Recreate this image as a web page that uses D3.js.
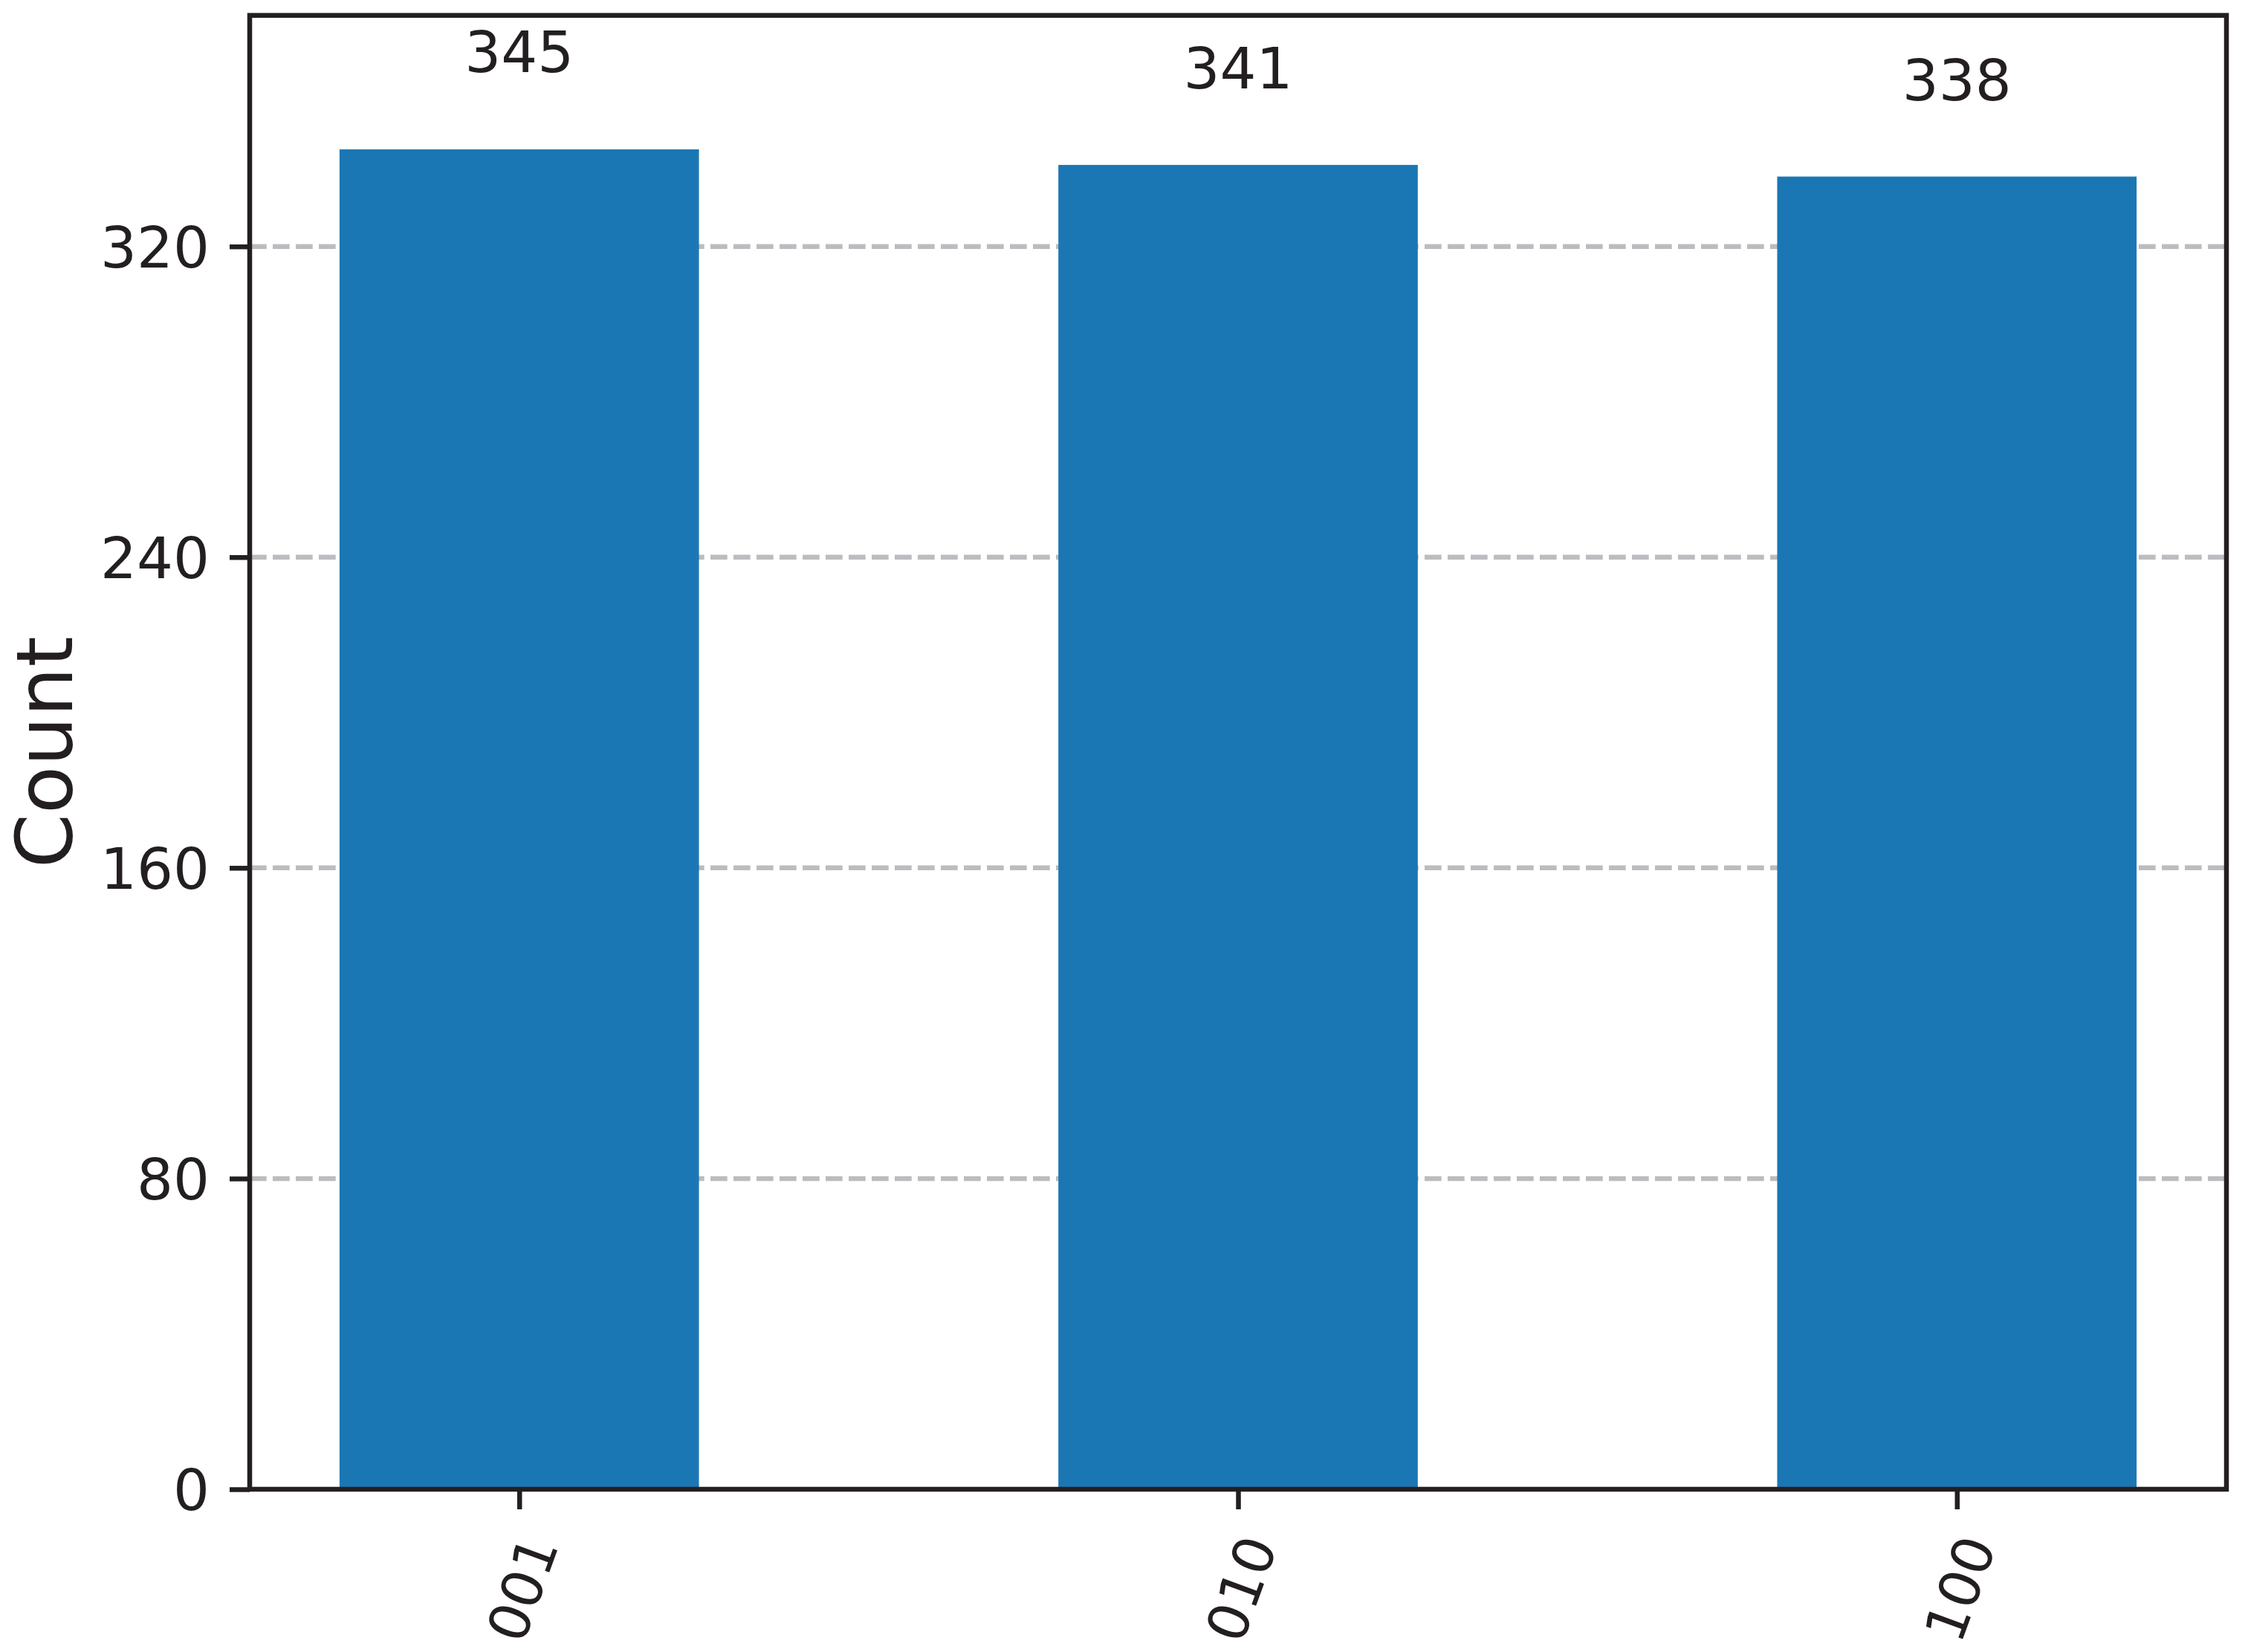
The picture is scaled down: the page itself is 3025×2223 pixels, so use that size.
<!DOCTYPE html>
<html>
<head>
<meta charset="utf-8">
<script src="https://cdn.jsdelivr.net/npm/d3@7"></script>
<style>
  body { margin: 0; background: #fff; }
  text { font-family: "DejaVu Sans", sans-serif; fill: #231f20; }
</style>
</head>
<body>
<svg id="chart" width="3025" height="2223"></svg>
<script>

// @ Data
const states = ["001", "010", "100"];
const counts = [345, 341, 338];
const yTicks = [0, 80, 160, 240, 320];

const ink = "#231f20";

function init() {

  const svg = d3.select("#chart");

  // @ Plot box (matplotlib axes)
  const left = 336, right = 2996, top = 20.7, bottom = 2004;

  const x = d3.scaleLinear()
              .domain([-0.375, states.length - 1 + 0.375])
              .range([left, right]);

  const y = d3.scaleLinear()
              .domain([0, d3.max(counts) * 1.1])
              .range([bottom, top]);

  const barW = x(0.5) - x(0);

  // ======= GRID ========
  svg.append("g")
    .selectAll("line")
    .data(yTicks.filter(d => d > 0))
    .enter().append("line")
      .attr("x1", left)
      .attr("x2", right)
      .attr("y1", d => y(d))
      .attr("y2", d => y(d))
      .attr("stroke", "#bcbcc0")
      .attr("stroke-width", 6.5)
      .attr("stroke-dasharray", "22.7,8.3");

  // ======= BARS ========
  svg.append("g")
    .selectAll("rect")
    .data(counts)
    .enter().append("rect")
      .attr("x", (d, i) => x(i) - barW / 2)
      .attr("y", d => y(d))
      .attr("width", barW)
      .attr("height", d => y(0) - y(d))
      .attr("fill", "#1b77b4");

  // @ value labels above bars
  svg.append("g")
    .selectAll("text")
    .data(counts)
    .enter().append("text")
      .attr("x", (d, i) => x(i))
      .attr("y", d => y(d * 1.05) - 14)
      .attr("text-anchor", "middle")
      .style("font-size", "77px")
      .text(d => d);

  // ======= AXES ========
  const yAxis = d3.axisLeft(y)
                  .tickValues(yTicks)
                  .tickSize(27)
                  .tickPadding(27);

  const yg = svg.append("g")
    .attr("transform", "translate(" + left + ",0)")
    .call(yAxis);
  yg.select(".domain").remove();
  yg.selectAll(".tick line").attr("stroke", ink).attr("stroke-width", 6.5);
  yg.selectAll(".tick text")
    .style("font-size", "77px")
    .attr("fill", ink)
    .attr("dy", "0.36em");

  const xAxis = d3.axisBottom(x)
                  .tickValues(d3.range(states.length))
                  .tickSize(27)
                  .tickFormat(i => states[i]);

  const xg = svg.append("g")
    .attr("transform", "translate(0," + bottom + ")")
    .call(xAxis);
  xg.select(".domain").remove();
  xg.selectAll(".tick line").attr("stroke", ink).attr("stroke-width", 6.5);
  xg.selectAll(".tick text")
    .style("font-size", "75px")
    .attr("fill", ink)
    .attr("y", 0)
    .attr("dy", "0.35em")
    .attr("text-anchor", "middle")
    .attr("transform", "translate(4,134) rotate(-70)");

  // @ Spines (full box)
  svg.append("rect")
    .attr("x", left)
    .attr("y", top)
    .attr("width", right - left)
    .attr("height", bottom - top)
    .attr("fill", "none")
    .attr("stroke", ink)
    .attr("stroke-width", 6.5);

  // @ y label
  svg.append("text")
    .attr("transform", "translate(97," + ((top + bottom) / 2) + ") rotate(-90)")
    .attr("text-anchor", "middle")
    .style("font-size", "105px")
    .text("Count");
}

init();
</script>
</body>
</html>
